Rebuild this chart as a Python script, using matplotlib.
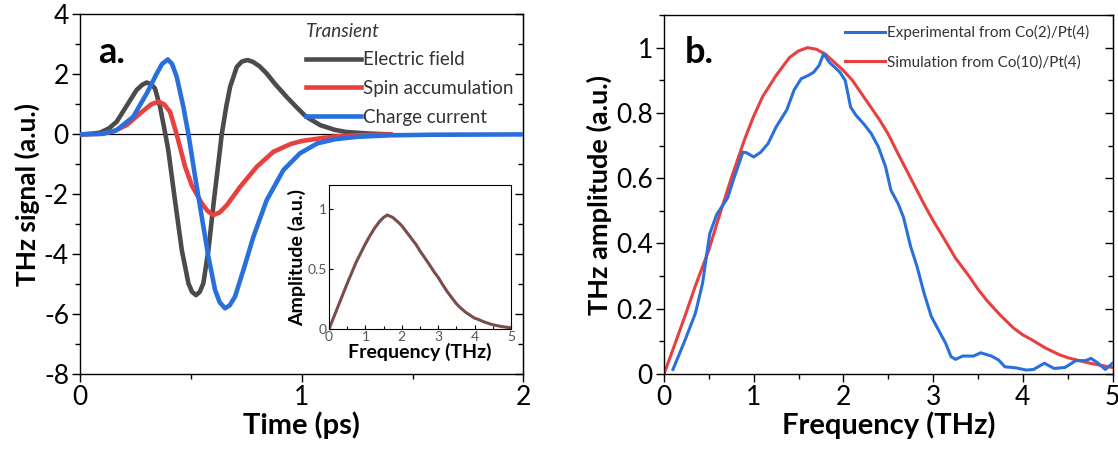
import numpy as np
import matplotlib.pyplot as plt
from matplotlib.ticker import MultipleLocator

plt.rcParams['font.family'] = ['Lato', 'DejaVu Sans']
plt.rcParams['axes.unicode_minus'] = False

# panel a: transient signals (time in ps)
t_e = [0, 0.05, 0.09, 0.13, 0.165, 0.21, 0.255, 0.28, 0.3, 0.32, 0.338, 0.361, 0.385,
       0.398, 0.428, 0.459, 0.489, 0.505, 0.523, 0.54, 0.556, 0.579, 0.604, 0.631, 0.639,
       0.66, 0.677, 0.707, 0.73, 0.755, 0.78, 0.81, 0.842, 0.88, 0.932, 0.98, 1.02, 1.083,
       1.15, 1.2, 1.3, 1.4]
e_field = [0, 0.02, 0.06, 0.2, 0.42, 0.95, 1.48, 1.65, 1.73, 1.68, 1.53, 0.92, 0,
           -0.52, -2.19, -3.86, -4.97, -5.25, -5.36, -5.25, -4.97, -3.86, -2.19, -0.52, 0,
           0.95, 1.59, 2.25, 2.43, 2.48, 2.42, 2.27, 2.03, 1.68, 1.25, 0.88, 0.59, 0.31,
           0.15, 0.08, 0.03, 0]

t_s = [0, 0.1, 0.15, 0.21, 0.271, 0.32, 0.353, 0.38, 0.406, 0.436, 0.474, 0.504, 0.549,
       0.575, 0.601, 0.63, 0.662, 0.722, 0.797, 0.872, 0.95, 1.0, 1.083, 1.15, 1.25, 1.4]
spin = [0, 0.02, 0.1, 0.31, 0.7, 1.0, 1.09, 1.0, 0.75, 0, -1.08, -1.7, -2.3,
        -2.55, -2.69, -2.6, -2.36, -1.75, -1.08, -0.58, -0.32, -0.22, -0.13, -0.07,
        -0.03, 0]

t_c = [0, 0.1, 0.165, 0.24, 0.301, 0.346, 0.37, 0.396, 0.415, 0.436, 0.466, 0.489, 0.519,
       0.549, 0.579, 0.609, 0.63, 0.654, 0.675, 0.699, 0.737, 0.782, 0.842, 0.917, 0.992,
       1.07, 1.15, 1.25, 1.4, 1.6, 2.0]
charge = [0, 0.02, 0.14, 0.59, 1.37, 2.03, 2.35, 2.5, 2.35, 1.92, 0.92, 0, -1.41,
          -2.75, -4.08, -5.19, -5.6, -5.8, -5.7, -5.41, -4.52, -3.41, -2.19, -1.19, -0.63,
          -0.3, -0.16, -0.08, -0.03, -0.01, 0]

# inset: spectrum of the transient
f_in = [0, 0.25, 0.5, 0.75, 1.0, 1.1, 1.25, 1.4, 1.5, 1.6, 1.75, 1.9, 2.0, 2.1, 2.25,
        2.4, 2.5, 2.75, 2.9, 3.0, 3.1, 3.25, 3.4, 3.5, 3.6, 3.75, 4.0, 4.1, 4.25, 4.5,
        4.75, 5.0]
amp_in = [0, 0.19, 0.38, 0.56, 0.71, 0.765, 0.84, 0.9, 0.93, 0.95, 0.93, 0.89, 0.86,
          0.82, 0.76, 0.7, 0.65, 0.54, 0.47, 0.43, 0.38, 0.31, 0.25, 0.21, 0.18, 0.14,
          0.09, 0.08, 0.06, 0.035, 0.02, 0.01]

# panel b: spectra
f_sim = [0, 0.1, 0.25, 0.35, 0.5, 0.6, 0.75, 0.9, 1.0, 1.1, 1.25, 1.4, 1.5, 1.6, 1.7,
         1.8, 1.9, 2.0, 2.1, 2.25, 2.4, 2.5, 2.6, 2.75, 2.9, 3.0, 3.1, 3.25, 3.4, 3.5,
         3.6, 3.75, 3.9, 4.0, 4.1, 4.25, 4.4, 4.5, 4.6, 4.75, 4.9, 5.0]
sim = [0, 0.075, 0.19, 0.27, 0.38, 0.47, 0.6, 0.72, 0.79, 0.85, 0.915, 0.97, 0.99, 1.0,
       0.995, 0.98, 0.955, 0.93, 0.9, 0.84, 0.78, 0.735, 0.68, 0.6, 0.52, 0.47, 0.425,
       0.355, 0.3, 0.26, 0.225, 0.18, 0.14, 0.12, 0.105, 0.08, 0.06, 0.05, 0.043, 0.033,
       0.025, 0.02]

f_exp = [0.1, 0.235, 0.35, 0.43, 0.51, 0.59, 0.71, 0.78, 0.88, 0.92, 1.0, 1.08, 1.16, 1.25,
         1.37, 1.45, 1.53, 1.61, 1.67, 1.73, 1.78, 1.84, 1.96, 2.02, 2.08, 2.14, 2.24, 2.31,
         2.39, 2.47, 2.53, 2.61, 2.67, 2.75, 2.82, 2.9, 2.98, 3.06, 3.14, 3.2, 3.25, 3.33,
         3.45, 3.53, 3.65, 3.73, 3.8, 3.92, 4.04, 4.12, 4.24, 4.35, 4.47, 4.59, 4.7, 4.76,
         4.84, 4.92, 5.0]
exp = [0.014, 0.104, 0.186, 0.278, 0.43, 0.49, 0.54, 0.6, 0.68, 0.678, 0.665, 0.68, 0.706,
       0.757, 0.81, 0.87, 0.905, 0.915, 0.925, 0.946, 0.982, 0.956, 0.925, 0.9, 0.818, 0.793,
       0.762, 0.737, 0.696, 0.635, 0.563, 0.522, 0.48, 0.39, 0.33, 0.247, 0.176, 0.135, 0.094,
       0.053, 0.045, 0.055, 0.055, 0.065, 0.055, 0.043, 0.022, 0.019, 0.012, 0.014, 0.033,
       0.017, 0.02, 0.041, 0.041, 0.048, 0.033, 0.014, 0.033]

c_gray = '#4b4b4b'
c_red = '#e8403f'
c_blue = '#2a70dc'

fig = plt.figure(figsize=(11.18, 4.55), dpi=100)
ax1 = fig.add_axes([0.0716, 0.1774, 0.3966, 0.7908])
ax2 = fig.add_axes([0.5939, 0.178, 0.4012, 0.789])
ins = fig.add_axes([0.2943, 0.2769, 0.1628, 0.3165])


def style(ax, xmaj, xmin, ymaj, ymin, size):
    ax.xaxis.set_major_locator(MultipleLocator(xmaj))
    ax.xaxis.set_minor_locator(MultipleLocator(xmin))
    ax.yaxis.set_major_locator(MultipleLocator(ymaj))
    ax.yaxis.set_minor_locator(MultipleLocator(ymin))
    ax.tick_params(which='major', direction='out', length=6, width=1, labelsize=size, pad=2)
    ax.tick_params(which='minor', direction='out', length=3.5, width=1)
    for s in ax.spines.values():
        s.set_linewidth(1)
    # inward ticks on the right side
    sec = ax.secondary_yaxis('right')
    sec.yaxis.set_major_locator(MultipleLocator(ymaj))
    sec.yaxis.set_minor_locator(MultipleLocator(ymin))
    sec.tick_params(which='major', direction='in', length=6, width=1, labelright=False)
    sec.tick_params(which='minor', direction='in', length=3.5, width=1)


# ---- panel a
ax1.axhline(0, color='black', lw=0.9, zorder=1)
ax1.plot(t_e, e_field, color=c_gray, lw=3.3, label='Electric field', zorder=3,
         solid_joinstyle='round')
ax1.plot(t_s, spin, color=c_red, lw=3.3, label='Spin accumulation', zorder=3,
         solid_joinstyle='round')
ax1.plot(t_c, charge, color=c_blue, lw=3.3, label='Charge current', zorder=4,
         solid_joinstyle='round')
ax1.set_xlim(0, 2)
ax1.set_ylim(-8, 4)
style(ax1, 1, 0.5, 2, 1, 19)
ax1.set_xlabel('Time (ps)', fontsize=21, fontweight='bold', labelpad=1)
ax1.set_ylabel('THz signal (a.u.)', fontsize=19, fontweight='bold', labelpad=3)
fig.text(0.0877, 0.8615, 'a.', fontsize=26, fontweight='bold', va='baseline')
leg = ax1.legend(loc='upper left', bbox_to_anchor=(0.2737, 0.950),
                 bbox_transform=fig.transFigure, frameon=False,
                 fontsize=13.5, handlelength=2.95, handletextpad=0.1,
                 labelspacing=0.62, borderaxespad=0, borderpad=0)
leg.set_title('Transient')
leg.get_title().set_fontsize(13.5)
leg.get_title().set_fontstyle('italic')
leg.get_title().set_color('#333333')
leg._legend_box.align = 'left'
for txt in leg.get_texts():
    txt.set_color('#333333')

# ---- inset
ins.plot(f_in, amp_in, color='#7b4c4c', lw=2.2, solid_joinstyle='round')
ins.set_xlim(0, 5)
ins.set_ylim(0, 1.2)
ins.xaxis.set_major_locator(MultipleLocator(1))
ins.xaxis.set_minor_locator(MultipleLocator(0.5))
ins.tick_params(which='major', direction='in', length=3, width=0.8, labelsize=10,
                labelcolor='#555555', pad=1.5)
ins.tick_params(which='minor', direction='in', length=2, width=0.8)
ins.set_yticks([0, 0.5, 1])
ins.set_yticklabels(['0', '0.5', '1'])
for s in ins.spines.values():
    s.set_linewidth(0.8)
ins.set_xlabel('Frequency (THz)', fontsize=14, fontweight='bold', labelpad=0)
ins.set_ylabel('Amplitude (a.u.)', fontsize=14, fontweight='bold', labelpad=1)

# ---- panel b
ax2.plot(f_exp, exp, color=c_blue, lw=2.2, label='Experimental from Co(2)/Pt(4)', zorder=3,
         solid_joinstyle='round')
ax2.plot(f_sim, sim, color=c_red, lw=2.2, label='Simulation from Co(10)/Pt(4)', zorder=2,
         solid_joinstyle='round')
ax2.set_xlim(0, 5)
ax2.set_ylim(0, 1.1)
style(ax2, 1, 0.5, 0.2, 0.1, 19)
ax2.set_yticks([0, 0.2, 0.4, 0.6, 0.8, 1.0])
ax2.set_yticklabels(['0', '0.2', '0.4', '0.6', '0.8', '1'])
ax2.set_xlabel('Frequency (THz)', fontsize=21, fontweight='bold', labelpad=1)
ax2.set_ylabel('THz amplitude (a.u.)', fontsize=19.5, fontweight='bold', labelpad=3)
fig.text(0.6127, 0.8615, 'b.', fontsize=26, fontweight='bold', va='baseline')
leg2 = ax2.legend(loc='upper left', bbox_to_anchor=(0.7558, 0.945),
                  bbox_transform=fig.transFigure, frameon=False,
                  fontsize=11, handlelength=2.6, handletextpad=0.15,
                  labelspacing=1.0, borderaxespad=0, borderpad=0)
for txt in leg2.get_texts():
    txt.set_color('#333333')

fig.savefig('out.png', dpi=100)
